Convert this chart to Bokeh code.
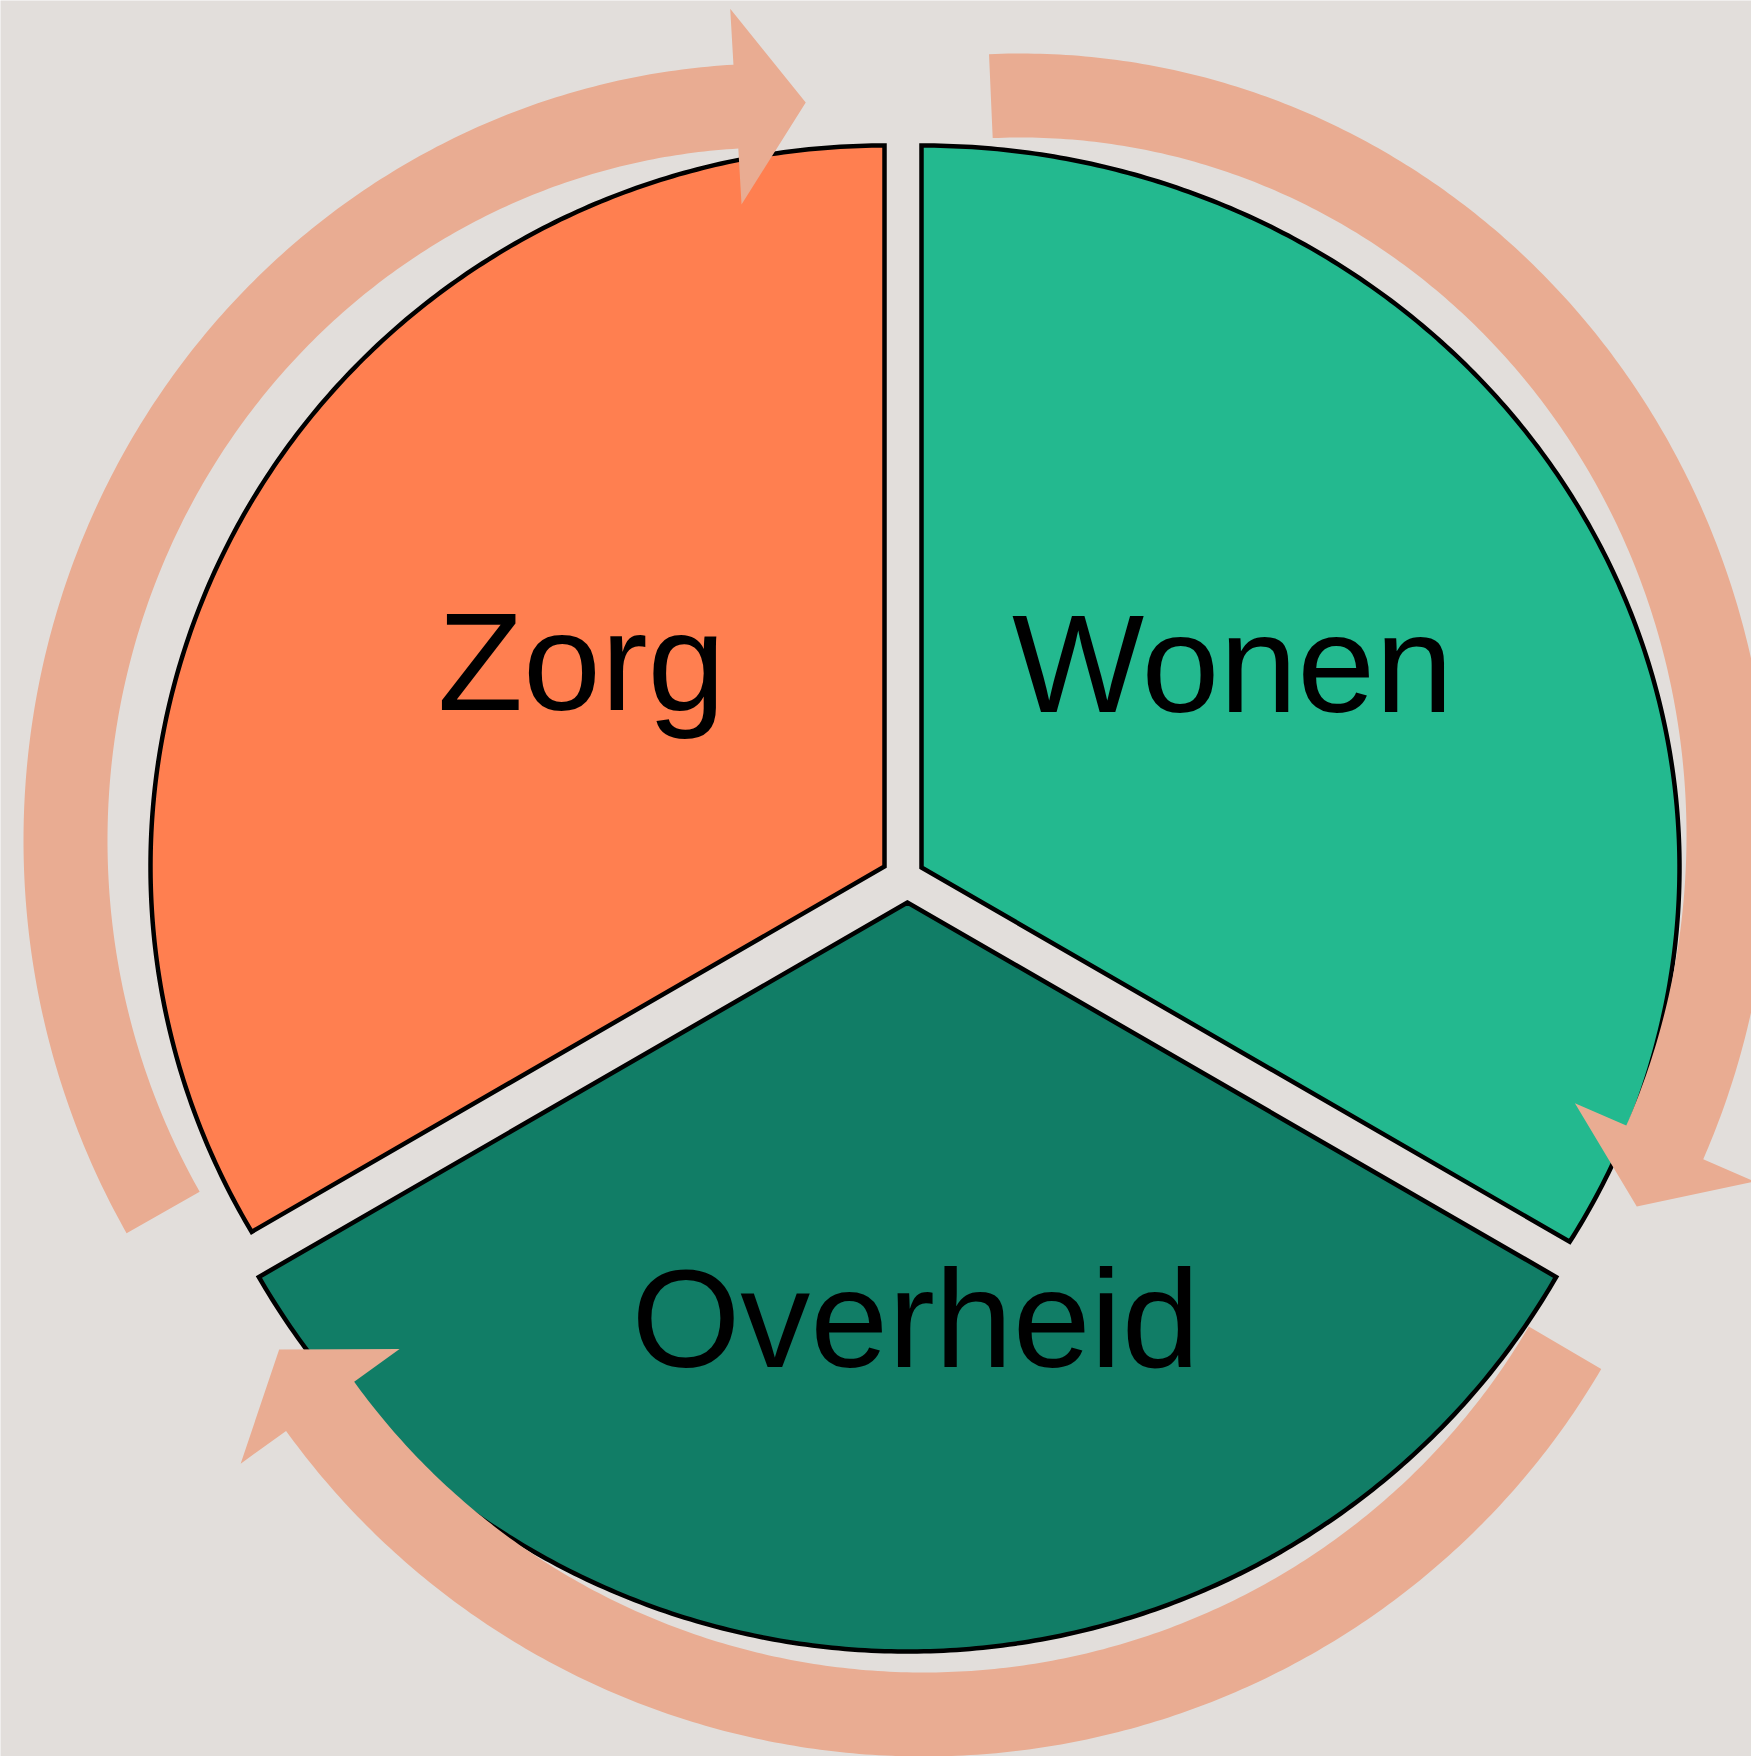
import numpy as np
from bokeh.plotting import figure
from bokeh.models import Range1d, ColumnDataSource
from bokeh.core.properties import value
from bokeh.embed import file_html
from bokeh.resources import INLINE

# ---- data -------------------------------------------------------------
segments = ["Zorg", "Overheid", "Wonen"]        # counter-clockwise from 12 o'clock
shares = [1, 1, 1]                               # equal thirds
seg_colors = ["#FF7F50", "#117D66", "#23B98F"]
arrow_color = "#E9AC92"
bg = "#E2DEDB"

# ---- layout (pixel geometry of the diagram) ---------------------------
seg_apex_x = [884, 907, 921]
seg_apex_y = [866, 902, 867]
seg_rx = [734, 749, 758]
seg_ry = [721, 749, 722]
label_x = [581, 915, 1232]
label_y = [661, 1318, 663]

arrow_cx = [775, 1020, 923]
arrow_cy = [840, 835, 974]
arrow_rx = [710, 708, 743]
arrow_ry = [735, 740, 740]
arrow_t0 = [210.4, 92.4, -30.3]      # tail angle (deg)
arrow_t1 = [93.2, -24.5, -144.3]     # head-base angle (deg)
arrow_w = 84
head_hw = 98
head_len = 70

W, H = 1751, 1756
p = figure(width=W, height=H, output_backend="svg", toolbar_location=None,
           x_range=Range1d(0, W), y_range=Range1d(H, 0),
           min_border=0, background_fill_color=bg, border_fill_color=bg,
           outline_line_color=None)
p.axis.visible = False
p.grid.visible = False

# ---- segments ---------------------------------------------------------
total = float(sum(shares))
start = 90.0
xs, ys = [], []
for i, s in enumerate(shares):
    a0 = start
    a1 = start + 360.0 * s / total
    start = a1
    th = np.radians(np.linspace(a0, a1, 240))
    rx, ry = seg_rx[i], seg_ry[i]
    r = 1.0 / np.sqrt((np.cos(th) / rx) ** 2 + (np.sin(th) / ry) ** 2)
    px = seg_apex_x[i] + r * np.cos(th)
    py = seg_apex_y[i] - r * np.sin(th)
    xs.append([seg_apex_x[i]] + list(px))
    ys.append([seg_apex_y[i]] + list(py))

p.patches(xs=xs, ys=ys, fill_color=seg_colors, line_color="black",
          line_width=4.5, line_join="miter")

# ---- arrows -----------------------------------------------------------
axs, ays = [], []
for i in range(3):
    cx, cy, rx, ry = arrow_cx[i], arrow_cy[i], arrow_rx[i], arrow_ry[i]
    t = np.radians(np.linspace(arrow_t0[i], arrow_t1[i], 240))
    mx = cx + rx * np.cos(t)
    my = cy - ry * np.sin(t)
    nx = np.cos(t) / rx
    ny = -np.sin(t) / ry
    nn = np.hypot(nx, ny)
    nx, ny = nx / nn, ny / nn
    ox, oy = mx + arrow_w / 2 * nx, my + arrow_w / 2 * ny
    ix, iy = mx - arrow_w / 2 * nx, my - arrow_w / 2 * ny
    tb = t[-1]
    Mx, My = mx[-1], my[-1]
    Nx, Ny = nx[-1], ny[-1]
    tx, ty = rx * np.sin(tb), ry * np.cos(tb)
    tn = np.hypot(tx, ty)
    tx, ty = tx / tn, ty / tn
    hx = [Mx + head_hw * Nx, Mx + head_len * tx, Mx - head_hw * Nx]
    hy = [My + head_hw * Ny, My + head_len * ty, My - head_hw * Ny]
    axs.append(list(ox) + hx + list(ix[::-1]))
    ays.append(list(oy) + hy + list(iy[::-1]))

p.patches(xs=axs, ys=ays, fill_color=arrow_color, line_color=None)

# ---- labels -----------------------------------------------------------
src = ColumnDataSource(dict(x=label_x, y=label_y, t=segments))
p.text(x="x", y="y", text="t", source=src, text_font=value("Liberation Sans"),
       text_font_size="140px", text_align="center", text_baseline="alphabetic",
       text_color="black")

html = file_html(p, INLINE, title="Zorg Wonen Overheid")
html = html.replace("<body>",
                    '<body style="margin:0;overflow:hidden;background-color:%s;">' % bg, 1)
open("out.html", "w").write(html)
